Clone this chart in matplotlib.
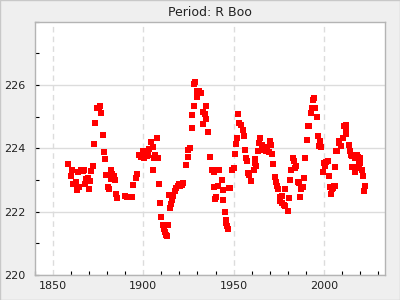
import matplotlib
matplotlib.use("Agg")
import matplotlib.pyplot as plt
from matplotlib.ticker import MultipleLocator
from matplotlib.patches import Rectangle

title = "Period: R Boo"

years = [
    1858.3, 1860.0, 1860.6, 1861.1, 1862.6, 1863.3, 1863.9, 1864.4, 1865.6, 1866.5,
    1867.2, 1867.8, 1868.2, 1869.4, 1870.0, 1870.4, 1871.1, 1872.2, 1872.6, 1873.3,
    1874.1, 1875.2, 1876.1, 1876.7, 1877.8, 1878.3, 1878.9, 1879.4, 1880.6, 1881.1,
    1881.9, 1882.2, 1882.8, 1883.7, 1884.4, 1885.0, 1885.6, 1890.0, 1891.1, 1892.0,
    1893.0, 1893.9, 1894.4, 1895.9, 1896.7, 1897.6, 1898.5, 1899.7, 1900.6, 1901.1,
    1901.8, 1902.5, 1903.0, 1904.4, 1905.2, 1905.6, 1906.0, 1906.7, 1907.8, 1908.3,
    1908.9, 1909.4, 1910.0, 1910.8, 1911.3, 1911.8, 1912.5, 1913.0, 1913.9, 1914.4,
    1915.0, 1915.5, 1916.0, 1916.6, 1917.5, 1918.3, 1919.0, 1919.6, 1920.4, 1921.2,
    1922.0, 1923.9, 1924.5, 1925.0, 1925.6, 1926.7, 1927.2, 1927.8, 1928.2, 1928.7,
    1929.6, 1930.0, 1931.1, 1932.2, 1932.8, 1933.3, 1934.3, 1934.8, 1935.0, 1936.1,
    1937.2, 1938.0, 1938.9, 1939.3, 1939.8, 1940.4, 1940.8, 1941.3, 1942.2, 1943.5,
    1944.1, 1944.4, 1945.2, 1945.6, 1946.0, 1946.4, 1946.8, 1947.4, 1948.3, 1949.4,
    1950.0, 1950.6, 1951.1, 1951.9, 1952.4, 1953.3, 1954.3, 1955.0, 1955.6, 1956.1,
    1956.9, 1957.4, 1958.0, 1958.7, 1959.8, 1961.1, 1961.7, 1962.1, 1962.4, 1963.3,
    1963.9, 1964.8, 1965.8, 1966.5, 1967.2, 1968.0, 1968.7, 1969.4, 1970.0, 1970.8,
    1971.3, 1971.9, 1972.8, 1973.6, 1974.1, 1974.7, 1975.5, 1976.0, 1976.9, 1976.9,
    1977.8, 1978.6, 1978.6, 1980.0, 1980.6, 1981.1, 1981.9, 1983.0, 1983.7, 1984.3,
    1984.8, 1985.6, 1986.3, 1986.7, 1987.6, 1988.6, 1988.9, 1989.4, 1990.6, 1991.1,
    1991.7, 1993.0, 1993.5, 1993.8, 1994.4, 1995.0, 1996.1, 1996.7, 1997.2, 1997.8,
    1998.3, 1999.6, 1999.9, 2000.9, 2001.4, 2002.2, 2002.8, 2003.7, 2004.1, 2004.7,
    2005.2, 2005.6, 2006.0, 2006.5, 2007.1, 2007.4, 2008.3, 2008.7, 2009.7, 2010.6,
    2011.1, 2012.1, 2012.1, 2012.6, 2013.9, 2014.4, 2015.2, 2015.8, 2015.8, 2016.7,
    2017.1, 2017.6, 2018.2, 2018.2, 2018.9, 2019.5, 2020.0, 2020.4, 2021.1, 2021.7,
    2022.2, 2022.8,
]

periods = [
    223.49, 223.12, 223.30, 222.87, 222.93, 222.68, 223.24, 222.78, 223.30, 223.28,
    223.32, 222.87, 223.03, 223.07, 222.71, 222.97, 223.28, 223.43, 224.15, 224.80,
    225.26, 225.28, 225.33, 225.11, 224.41, 223.87, 223.65, 223.15, 222.78, 222.71,
    223.02, 223.30, 223.18, 223.13, 222.99, 222.57, 222.43, 222.49, 222.45, 222.45,
    222.45, 222.46, 222.83, 223.05, 223.18, 223.78, 223.72, 223.93, 223.70, 223.93,
    223.75, 223.78, 223.97, 224.20, 224.03, 223.33, 223.70, 223.80, 224.34, 223.70,
    222.87, 222.27, 221.83, 221.58, 221.45, 221.35, 221.25, 221.22, 221.58, 222.53,
    222.12, 222.25, 222.38, 222.50, 222.65, 222.75, 222.82, 222.88, 222.80, 222.85,
    222.92, 223.46, 223.71, 223.96, 224.02, 224.65, 225.05, 225.33, 226.04, 226.09,
    225.80, 225.62, 225.80, 225.75, 225.16, 224.77, 225.07, 224.93, 225.33, 224.52,
    223.74, 223.33, 223.24, 222.78, 222.41, 222.45, 223.30, 222.80, 223.33, 222.99,
    222.68, 222.37, 222.00, 221.75, 221.65, 221.55, 221.45, 222.74, 222.74, 223.30,
    223.37, 223.83, 224.15, 224.34, 225.08, 224.79, 224.72, 224.58, 224.38, 223.96,
    223.68, 223.59, 223.23, 223.16, 222.97, 223.33, 223.65, 223.54, 223.44, 223.93,
    224.17, 224.32, 224.10, 223.95, 224.05, 223.90, 224.00, 223.88, 224.24, 224.11,
    223.82, 223.52, 223.09, 222.95, 222.81, 222.71, 222.45, 222.34, 222.27, 222.50,
    222.22, 222.71, 222.19, 222.03, 222.43, 222.99, 223.30, 223.70, 223.59, 223.37,
    223.44, 222.94, 222.92, 222.45, 222.71, 222.78, 223.07, 223.68, 224.27, 224.69,
    224.71, 225.13, 225.28, 225.52, 225.59, 225.28, 224.99, 224.40, 224.06, 224.24,
    224.03, 223.26, 223.54, 223.44, 223.56, 223.59, 223.13, 222.78, 222.55, 222.71,
    222.74, 222.81, 222.81, 223.41, 223.93, 223.93, 224.17, 224.22, 224.06, 224.34,
    224.69, 224.72, 224.58, 224.45, 224.12, 223.93, 223.80, 223.75, 223.41, 223.41,
    223.26, 223.70, 223.78, 223.37, 223.72, 223.49, 223.68, 223.54, 223.30, 223.13,
    222.66, 222.81,
]

yticks = [220, 222, 224, 226]
ytick_labels = ["220", "222", "224", "226"]

fig = plt.figure(figsize=(4, 3), dpi=100, facecolor="#efefef")
fig.patches.append(Rectangle((0, 0), 1, 1, transform=fig.transFigure,
                             fill=False, edgecolor="#c8c8c8", linewidth=1.0))
ax = fig.add_axes([0.088, 0.0833, 0.8745, 0.8447])
ax.set_facecolor("white")

ax.plot(years, periods, linestyle="none", marker="s", markersize=4.2,
        color="#ff0000", markeredgewidth=0, zorder=3)

ax.set_xlim(1840, 2034)
ax.set_ylim(220, 228)
ax.xaxis.set_major_locator(MultipleLocator(50))
ax.xaxis.set_minor_locator(MultipleLocator(10))
ax.yaxis.set_minor_locator(MultipleLocator(1))
ax.set_yticks(yticks)
ax.set_yticklabels(ytick_labels)

ax.grid(axis="x", which="major", color="#dcdcdc", linestyle=(0, (4, 3)), linewidth=1.0)
ax.grid(axis="y", which="major", color="#dcdcdc", linestyle="-", linewidth=1.0)
ax.set_axisbelow(True)

ax.tick_params(which="both", direction="in", length=3, width=0.8, color="black",
               labelsize=8, labelcolor="#222222")
ax.tick_params(axis="y", pad=7)
ax.tick_params(axis="x", pad=4)
ax.tick_params(axis="x", which="major", length=0)

for s in ax.spines.values():
    s.set_color("#b4b4b4")
    s.set_linewidth(1.0)

ax.set_title(title, fontsize=9, color="#222222", pad=4)

fig.savefig("out.png", dpi=100, facecolor=fig.get_facecolor())
